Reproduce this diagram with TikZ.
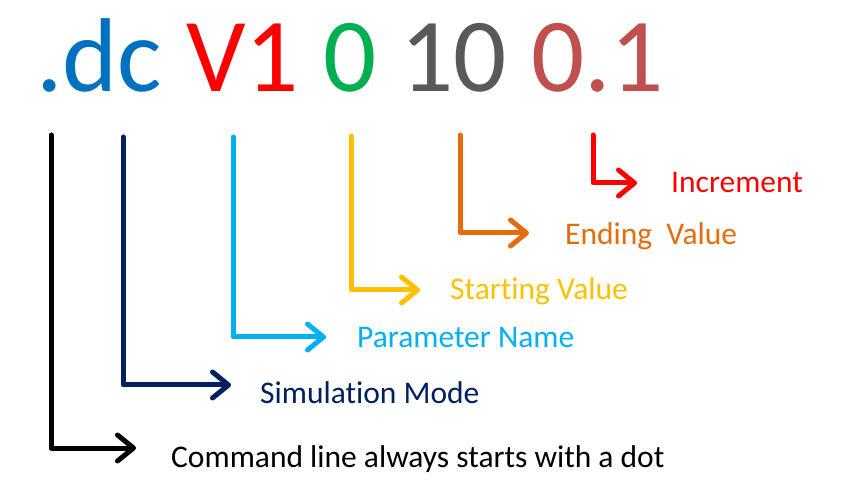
\documentclass[tikz,border=0pt]{standalone}
\usepackage{fontspec}
\setmainfont{Carlito}[Ligatures=NoCommon]
\usetikzlibrary{positioning,arrows.meta}

\definecolor{dcblue}{RGB}{0,112,192}
\definecolor{vred}{RGB}{255,0,0}
\definecolor{startgreen}{RGB}{0,176,80}
\definecolor{endgray}{RGB}{89,89,89}
\definecolor{incred}{RGB}{192,80,77}
\definecolor{modenavy}{RGB}{0,32,96}
\definecolor{parblue}{RGB}{0,176,240}
\definecolor{startgold}{RGB}{255,192,0}
\definecolor{endorange}{RGB}{228,108,10}

\begin{document}
\begin{tikzpicture}[
    x=1pt, y=-1pt,
    token/.style={font=\fontsize{105}{110}\selectfont, inner sep=0pt, anchor=base west},
    tag/.style={font=\fontsize{31.5}{36}\selectfont, inner sep=0pt, anchor=base west},
    arr/.style={line width=5pt, line cap=round, line join=round,
        -{Straight Barb[round, length=16pt, width=26pt]}}
]
\useasboundingbox (0,0) rectangle (862,502);

% Command
\node[token, dcblue] (dc) at (36,92) {.dc};
\node[token, vred, right=23.7pt of dc.base east, anchor=base west] (V1) {V1};
\node[token, startgreen, right=23.7pt of V1.base east, anchor=base west] (start) {0};
\node[token, endgray, right=23.7pt of start.base east, anchor=base west] (stop) {10};
\node[token, incred, right=23.7pt of stop.base east, anchor=base west] (inc) {0.1};

% Descriptions
\node[tag, black] (L1) at (171,467) {Command line always starts with a dot};
\node[tag, modenavy] (L2) at (260,403) {Simulation Mode};
\node[tag, parblue] (L3) at (357,348) {Parameter Name};
\node[tag, startgold] (L4) at (450,300) {Starting Value};
\node[tag, endorange] (L5) at (565,245) {Ending\ \ Value};
\node[tag, vred] (L6) at (671,193) {Increment};

% Arrow ends
\coordinate (T1) at (51,135);  \coordinate (E1) at (136,448);
\coordinate (T2) at (123,137); \coordinate (E2) at (231,385);
\coordinate (T3) at (233,137); \coordinate (E3) at (326,337);
\coordinate (T4) at (351,136); \coordinate (E4) at (420,290);
\coordinate (T5) at (460,135); \coordinate (E5) at (529,233);
\coordinate (T6) at (593,135); \coordinate (E6) at (637,183);

% Connections
\foreach \i/\c in {1/black,2/modenavy,3/parblue,4/startgold,5/endorange,6/vred}
    \draw[arr, \c] (T\i) |- (E\i);

\end{tikzpicture}
\end{document}
